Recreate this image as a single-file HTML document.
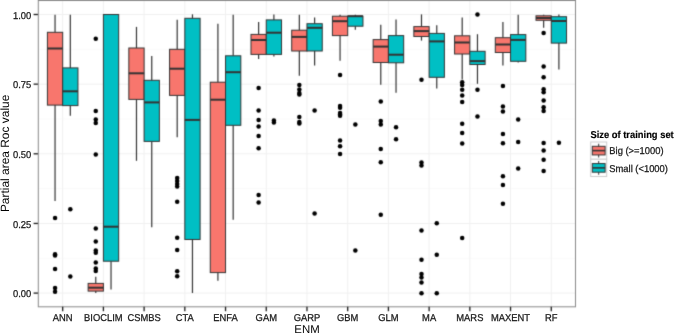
<!DOCTYPE html>
<html><head><meta charset="utf-8"><style>
html,body{margin:0;padding:0;background:#fff;}
body{width:675px;height:334px;overflow:hidden;}
svg{display:block;will-change:transform;}
text{font-family:"Liberation Sans",sans-serif;text-rendering:geometricPrecision;}
.at{font-size:9.4px;fill:#1A1A1A;stroke:#1A1A1A;stroke-width:0.25px;}
.tt{font-size:11.4px;fill:#000000;}
.yt{font-size:11.95px;fill:#000000;}
.lt{font-size:9.4px;font-weight:bold;fill:#000000;stroke:#000;stroke-width:0.15px;}
</style></head><body>
<svg width="675" height="334" viewBox="0 0 675 334">
<defs><filter id="soft" x="0" y="0" width="675" height="334" filterUnits="userSpaceOnUse" color-interpolation-filters="sRGB"><feConvolveMatrix order="3" kernelMatrix="1 5.0 1 5.0 25.0 5.0 1 5.0 1" divisor="49.0" edgeMode="duplicate"/></filter></defs>
<g filter="url(#soft)">
<rect x="0" y="0" width="675" height="334" fill="#ffffff"/>
<rect x="38.25" y="0.5" width="537.45" height="305.8" fill="#ffffff"/>
<line x1="38.25" x2="575.7" y1="258.28" y2="258.28" stroke="#FAFAFA" stroke-width="1"/>
<line x1="38.25" x2="575.7" y1="188.62" y2="188.62" stroke="#FAFAFA" stroke-width="1"/>
<line x1="38.25" x2="575.7" y1="118.98" y2="118.98" stroke="#FAFAFA" stroke-width="1"/>
<line x1="38.25" x2="575.7" y1="49.32" y2="49.32" stroke="#FAFAFA" stroke-width="1"/>
<line x1="38.25" x2="575.7" y1="293.10" y2="293.10" stroke="#F0F0F0" stroke-width="1"/>
<line x1="38.25" x2="575.7" y1="223.45" y2="223.45" stroke="#F0F0F0" stroke-width="1"/>
<line x1="38.25" x2="575.7" y1="153.80" y2="153.80" stroke="#F0F0F0" stroke-width="1"/>
<line x1="38.25" x2="575.7" y1="84.15" y2="84.15" stroke="#F0F0F0" stroke-width="1"/>
<line x1="38.25" x2="575.7" y1="14.50" y2="14.50" stroke="#F0F0F0" stroke-width="1"/>
<line x1="62.68" x2="62.68" y1="0.5" y2="306.3" stroke="#F0F0F0" stroke-width="1"/>
<line x1="103.40" x2="103.40" y1="0.5" y2="306.3" stroke="#F0F0F0" stroke-width="1"/>
<line x1="144.11" x2="144.11" y1="0.5" y2="306.3" stroke="#F0F0F0" stroke-width="1"/>
<line x1="184.83" x2="184.83" y1="0.5" y2="306.3" stroke="#F0F0F0" stroke-width="1"/>
<line x1="225.54" x2="225.54" y1="0.5" y2="306.3" stroke="#F0F0F0" stroke-width="1"/>
<line x1="266.26" x2="266.26" y1="0.5" y2="306.3" stroke="#F0F0F0" stroke-width="1"/>
<line x1="306.98" x2="306.98" y1="0.5" y2="306.3" stroke="#F0F0F0" stroke-width="1"/>
<line x1="347.69" x2="347.69" y1="0.5" y2="306.3" stroke="#F0F0F0" stroke-width="1"/>
<line x1="388.41" x2="388.41" y1="0.5" y2="306.3" stroke="#F0F0F0" stroke-width="1"/>
<line x1="429.12" x2="429.12" y1="0.5" y2="306.3" stroke="#F0F0F0" stroke-width="1"/>
<line x1="469.84" x2="469.84" y1="0.5" y2="306.3" stroke="#F0F0F0" stroke-width="1"/>
<line x1="510.55" x2="510.55" y1="0.5" y2="306.3" stroke="#F0F0F0" stroke-width="1"/>
<line x1="551.27" x2="551.27" y1="0.5" y2="306.3" stroke="#F0F0F0" stroke-width="1"/>
<line x1="55.05" x2="55.05" y1="14.8" y2="32.3" stroke="#333333" stroke-width="1.2"/>
<line x1="55.05" x2="55.05" y1="105.1" y2="201.0" stroke="#333333" stroke-width="1.2"/>
<rect x="47.41" y="32.3" width="15.27" height="72.80" fill="#F8766D" stroke="#333333" stroke-width="1.0"/>
<line x1="47.41" x2="62.68" y1="48.5" y2="48.5" stroke="#333333" stroke-width="2.0"/>
<circle cx="55.05" cy="217.9" r="2.25" fill="#000"/>
<circle cx="55.05" cy="254.3" r="2.25" fill="#000"/>
<circle cx="55.05" cy="255.6" r="2.25" fill="#000"/>
<circle cx="55.05" cy="268.9" r="2.25" fill="#000"/>
<circle cx="55.05" cy="288.0" r="2.25" fill="#000"/>
<circle cx="55.05" cy="291.8" r="2.25" fill="#000"/>
<line x1="70.31" x2="70.31" y1="14.8" y2="67.9" stroke="#333333" stroke-width="1.2"/>
<line x1="70.31" x2="70.31" y1="105.6" y2="115.8" stroke="#333333" stroke-width="1.2"/>
<rect x="62.68" y="67.9" width="15.27" height="37.70" fill="#00BFC4" stroke="#333333" stroke-width="1.0"/>
<line x1="62.68" x2="77.95" y1="91.3" y2="91.3" stroke="#333333" stroke-width="2.0"/>
<circle cx="70.31" cy="209.3" r="2.25" fill="#000"/>
<circle cx="70.31" cy="276.5" r="2.25" fill="#000"/>
<line x1="95.76" x2="95.76" y1="276.7" y2="283.4" stroke="#333333" stroke-width="1.2"/>
<line x1="95.76" x2="95.76" y1="291.1" y2="293.1" stroke="#333333" stroke-width="1.2"/>
<rect x="88.13" y="283.4" width="15.27" height="7.70" fill="#F8766D" stroke="#333333" stroke-width="1.0"/>
<line x1="88.13" x2="103.40" y1="287.7" y2="287.7" stroke="#333333" stroke-width="2.0"/>
<circle cx="95.76" cy="38.7" r="2.25" fill="#000"/>
<circle cx="95.76" cy="111.0" r="2.25" fill="#000"/>
<circle cx="95.76" cy="119.6" r="2.25" fill="#000"/>
<circle cx="95.76" cy="123.1" r="2.25" fill="#000"/>
<circle cx="95.76" cy="154.6" r="2.25" fill="#000"/>
<circle cx="95.76" cy="228.4" r="2.25" fill="#000"/>
<circle cx="95.76" cy="241.5" r="2.25" fill="#000"/>
<circle cx="95.76" cy="250.6" r="2.25" fill="#000"/>
<circle cx="95.76" cy="252.8" r="2.25" fill="#000"/>
<circle cx="95.76" cy="262.6" r="2.25" fill="#000"/>
<circle cx="95.76" cy="268.6" r="2.25" fill="#000"/>
<circle cx="95.76" cy="271.0" r="2.25" fill="#000"/>
<line x1="111.03" x2="111.03" y1="261.2" y2="289.4" stroke="#333333" stroke-width="1.2"/>
<rect x="103.40" y="14.5" width="15.27" height="246.70" fill="#00BFC4" stroke="#333333" stroke-width="1.0"/>
<line x1="103.40" x2="118.66" y1="226.7" y2="226.7" stroke="#333333" stroke-width="2.0"/>
<line x1="136.48" x2="136.48" y1="26.9" y2="48.0" stroke="#333333" stroke-width="1.2"/>
<line x1="136.48" x2="136.48" y1="99.4" y2="160.8" stroke="#333333" stroke-width="1.2"/>
<rect x="128.84" y="48.0" width="15.27" height="51.40" fill="#F8766D" stroke="#333333" stroke-width="1.0"/>
<line x1="128.84" x2="144.11" y1="73.3" y2="73.3" stroke="#333333" stroke-width="2.0"/>
<line x1="151.75" x2="151.75" y1="56.0" y2="80.3" stroke="#333333" stroke-width="1.2"/>
<line x1="151.75" x2="151.75" y1="141.4" y2="227.2" stroke="#333333" stroke-width="1.2"/>
<rect x="144.11" y="80.3" width="15.27" height="61.10" fill="#00BFC4" stroke="#333333" stroke-width="1.0"/>
<line x1="144.11" x2="159.38" y1="102.4" y2="102.4" stroke="#333333" stroke-width="2.0"/>
<line x1="177.19" x2="177.19" y1="19.7" y2="49.3" stroke="#333333" stroke-width="1.2"/>
<line x1="177.19" x2="177.19" y1="95.4" y2="137.2" stroke="#333333" stroke-width="1.2"/>
<rect x="169.56" y="49.3" width="15.27" height="46.10" fill="#F8766D" stroke="#333333" stroke-width="1.0"/>
<line x1="169.56" x2="184.83" y1="68.7" y2="68.7" stroke="#333333" stroke-width="2.0"/>
<circle cx="177.19" cy="178.0" r="2.25" fill="#000"/>
<circle cx="177.19" cy="181.0" r="2.25" fill="#000"/>
<circle cx="177.19" cy="184.0" r="2.25" fill="#000"/>
<circle cx="177.19" cy="186.5" r="2.25" fill="#000"/>
<circle cx="177.19" cy="201.8" r="2.25" fill="#000"/>
<circle cx="177.19" cy="237.7" r="2.25" fill="#000"/>
<circle cx="177.19" cy="250.1" r="2.25" fill="#000"/>
<circle cx="177.19" cy="271.3" r="2.25" fill="#000"/>
<circle cx="177.19" cy="276.2" r="2.25" fill="#000"/>
<line x1="192.46" x2="192.46" y1="14.3" y2="18.3" stroke="#333333" stroke-width="1.2"/>
<line x1="192.46" x2="192.46" y1="239.5" y2="293.0" stroke="#333333" stroke-width="1.2"/>
<rect x="184.83" y="18.3" width="15.27" height="221.20" fill="#00BFC4" stroke="#333333" stroke-width="1.0"/>
<line x1="184.83" x2="200.10" y1="119.9" y2="119.9" stroke="#333333" stroke-width="2.0"/>
<line x1="217.91" x2="217.91" y1="23.7" y2="82.2" stroke="#333333" stroke-width="1.2"/>
<line x1="217.91" x2="217.91" y1="272.6" y2="280.7" stroke="#333333" stroke-width="1.2"/>
<rect x="210.27" y="82.2" width="15.27" height="190.40" fill="#F8766D" stroke="#333333" stroke-width="1.0"/>
<line x1="210.27" x2="225.54" y1="99.7" y2="99.7" stroke="#333333" stroke-width="2.0"/>
<line x1="233.18" x2="233.18" y1="14.8" y2="55.8" stroke="#333333" stroke-width="1.2"/>
<line x1="233.18" x2="233.18" y1="125.3" y2="219.8" stroke="#333333" stroke-width="1.2"/>
<rect x="225.54" y="55.8" width="15.27" height="69.50" fill="#00BFC4" stroke="#333333" stroke-width="1.0"/>
<line x1="225.54" x2="240.81" y1="72.2" y2="72.2" stroke="#333333" stroke-width="2.0"/>
<line x1="258.62" x2="258.62" y1="21.9" y2="34.4" stroke="#333333" stroke-width="1.2"/>
<line x1="258.62" x2="258.62" y1="54.4" y2="59.0" stroke="#333333" stroke-width="1.2"/>
<rect x="250.99" y="34.4" width="15.27" height="20.00" fill="#F8766D" stroke="#333333" stroke-width="1.0"/>
<line x1="250.99" x2="266.26" y1="40.0" y2="40.0" stroke="#333333" stroke-width="2.0"/>
<circle cx="258.62" cy="88.1" r="2.25" fill="#000"/>
<circle cx="258.62" cy="110.4" r="2.25" fill="#000"/>
<circle cx="258.62" cy="119.9" r="2.25" fill="#000"/>
<circle cx="258.62" cy="126.6" r="2.25" fill="#000"/>
<circle cx="258.62" cy="136.0" r="2.25" fill="#000"/>
<circle cx="258.62" cy="148.2" r="2.25" fill="#000"/>
<circle cx="258.62" cy="195.0" r="2.25" fill="#000"/>
<circle cx="258.62" cy="202.6" r="2.25" fill="#000"/>
<line x1="273.89" x2="273.89" y1="14.6" y2="19.9" stroke="#333333" stroke-width="1.2"/>
<line x1="273.89" x2="273.89" y1="54.4" y2="56.4" stroke="#333333" stroke-width="1.2"/>
<rect x="266.26" y="19.9" width="15.27" height="34.50" fill="#00BFC4" stroke="#333333" stroke-width="1.0"/>
<line x1="266.26" x2="281.53" y1="32.7" y2="32.7" stroke="#333333" stroke-width="2.0"/>
<circle cx="273.89" cy="120.4" r="2.25" fill="#000"/>
<circle cx="273.89" cy="122.6" r="2.25" fill="#000"/>
<line x1="299.34" x2="299.34" y1="14.8" y2="30.2" stroke="#333333" stroke-width="1.2"/>
<line x1="299.34" x2="299.34" y1="51.0" y2="75.8" stroke="#333333" stroke-width="1.2"/>
<rect x="291.71" y="30.2" width="15.27" height="20.80" fill="#F8766D" stroke="#333333" stroke-width="1.0"/>
<line x1="291.71" x2="306.98" y1="36.9" y2="36.9" stroke="#333333" stroke-width="2.0"/>
<circle cx="299.34" cy="84.9" r="2.25" fill="#000"/>
<circle cx="299.34" cy="89.4" r="2.25" fill="#000"/>
<circle cx="299.34" cy="93.0" r="2.25" fill="#000"/>
<circle cx="299.34" cy="94.6" r="2.25" fill="#000"/>
<circle cx="299.34" cy="117.1" r="2.25" fill="#000"/>
<circle cx="299.34" cy="122.1" r="2.25" fill="#000"/>
<circle cx="299.34" cy="123.5" r="2.25" fill="#000"/>
<line x1="314.61" x2="314.61" y1="17.5" y2="23.7" stroke="#333333" stroke-width="1.2"/>
<line x1="314.61" x2="314.61" y1="51.0" y2="65.5" stroke="#333333" stroke-width="1.2"/>
<rect x="306.98" y="23.7" width="15.27" height="27.30" fill="#00BFC4" stroke="#333333" stroke-width="1.0"/>
<line x1="306.98" x2="322.24" y1="27.8" y2="27.8" stroke="#333333" stroke-width="2.0"/>
<circle cx="314.61" cy="110.4" r="2.25" fill="#000"/>
<circle cx="314.61" cy="213.6" r="2.25" fill="#000"/>
<line x1="340.06" x2="340.06" y1="14.8" y2="16.2" stroke="#333333" stroke-width="1.2"/>
<line x1="340.06" x2="340.06" y1="35.6" y2="60.8" stroke="#333333" stroke-width="1.2"/>
<rect x="332.42" y="16.2" width="15.27" height="19.40" fill="#F8766D" stroke="#333333" stroke-width="1.0"/>
<line x1="332.42" x2="347.69" y1="21.2" y2="21.2" stroke="#333333" stroke-width="2.0"/>
<circle cx="340.06" cy="74.9" r="2.25" fill="#000"/>
<circle cx="340.06" cy="105.9" r="2.25" fill="#000"/>
<circle cx="340.06" cy="107.7" r="2.25" fill="#000"/>
<circle cx="340.06" cy="113.1" r="2.25" fill="#000"/>
<circle cx="340.06" cy="114.5" r="2.25" fill="#000"/>
<circle cx="340.06" cy="115.8" r="2.25" fill="#000"/>
<circle cx="340.06" cy="140.6" r="2.25" fill="#000"/>
<circle cx="340.06" cy="146.3" r="2.25" fill="#000"/>
<circle cx="340.06" cy="154.1" r="2.25" fill="#000"/>
<line x1="355.33" x2="355.33" y1="14.8" y2="16.2" stroke="#333333" stroke-width="1.2"/>
<line x1="355.33" x2="355.33" y1="26.2" y2="29.8" stroke="#333333" stroke-width="1.2"/>
<rect x="347.69" y="16.2" width="15.27" height="10.00" fill="#00BFC4" stroke="#333333" stroke-width="1.0"/>
<line x1="347.69" x2="362.96" y1="16.2" y2="16.2" stroke="#333333" stroke-width="2.0"/>
<circle cx="355.33" cy="124.5" r="2.25" fill="#000"/>
<circle cx="355.33" cy="250.6" r="2.25" fill="#000"/>
<line x1="380.77" x2="380.77" y1="24.8" y2="39.6" stroke="#333333" stroke-width="1.2"/>
<line x1="380.77" x2="380.77" y1="62.5" y2="84.8" stroke="#333333" stroke-width="1.2"/>
<rect x="373.14" y="39.6" width="15.27" height="22.90" fill="#F8766D" stroke="#333333" stroke-width="1.0"/>
<line x1="373.14" x2="388.41" y1="46.6" y2="46.6" stroke="#333333" stroke-width="2.0"/>
<circle cx="380.77" cy="101.6" r="2.25" fill="#000"/>
<circle cx="380.77" cy="121.0" r="2.25" fill="#000"/>
<circle cx="380.77" cy="124.5" r="2.25" fill="#000"/>
<circle cx="380.77" cy="149.0" r="2.25" fill="#000"/>
<circle cx="380.77" cy="162.2" r="2.25" fill="#000"/>
<circle cx="380.77" cy="214.7" r="2.25" fill="#000"/>
<line x1="396.04" x2="396.04" y1="19.4" y2="35.6" stroke="#333333" stroke-width="1.2"/>
<line x1="396.04" x2="396.04" y1="62.8" y2="92.8" stroke="#333333" stroke-width="1.2"/>
<rect x="388.41" y="35.6" width="15.27" height="27.20" fill="#00BFC4" stroke="#333333" stroke-width="1.0"/>
<line x1="388.41" x2="403.68" y1="54.7" y2="54.7" stroke="#333333" stroke-width="2.0"/>
<circle cx="396.04" cy="127.2" r="2.25" fill="#000"/>
<circle cx="396.04" cy="139.3" r="2.25" fill="#000"/>
<line x1="421.49" x2="421.49" y1="14.4" y2="26.6" stroke="#333333" stroke-width="1.2"/>
<line x1="421.49" x2="421.49" y1="36.5" y2="40.6" stroke="#333333" stroke-width="1.2"/>
<rect x="413.85" y="26.6" width="15.27" height="9.90" fill="#F8766D" stroke="#333333" stroke-width="1.0"/>
<line x1="413.85" x2="429.12" y1="31.1" y2="31.1" stroke="#333333" stroke-width="2.0"/>
<circle cx="421.49" cy="79.8" r="2.25" fill="#000"/>
<circle cx="421.49" cy="162.5" r="2.25" fill="#000"/>
<circle cx="421.49" cy="165.5" r="2.25" fill="#000"/>
<circle cx="421.49" cy="230.5" r="2.25" fill="#000"/>
<circle cx="421.49" cy="259.7" r="2.25" fill="#000"/>
<circle cx="421.49" cy="273.9" r="2.25" fill="#000"/>
<circle cx="421.49" cy="277.4" r="2.25" fill="#000"/>
<circle cx="421.49" cy="282.5" r="2.25" fill="#000"/>
<circle cx="421.49" cy="293.3" r="2.25" fill="#000"/>
<line x1="436.76" x2="436.76" y1="25.2" y2="33.4" stroke="#333333" stroke-width="1.2"/>
<line x1="436.76" x2="436.76" y1="77.3" y2="88.6" stroke="#333333" stroke-width="1.2"/>
<rect x="429.12" y="33.4" width="15.27" height="43.90" fill="#00BFC4" stroke="#333333" stroke-width="1.0"/>
<line x1="429.12" x2="444.39" y1="41.4" y2="41.4" stroke="#333333" stroke-width="2.0"/>
<circle cx="436.76" cy="223.3" r="2.25" fill="#000"/>
<circle cx="436.76" cy="254.8" r="2.25" fill="#000"/>
<circle cx="436.76" cy="293.3" r="2.25" fill="#000"/>
<line x1="462.20" x2="462.20" y1="17.5" y2="35.8" stroke="#333333" stroke-width="1.2"/>
<line x1="462.20" x2="462.20" y1="54.0" y2="79.6" stroke="#333333" stroke-width="1.2"/>
<rect x="454.57" y="35.8" width="15.27" height="18.20" fill="#F8766D" stroke="#333333" stroke-width="1.0"/>
<line x1="454.57" x2="469.84" y1="42.5" y2="42.5" stroke="#333333" stroke-width="2.0"/>
<circle cx="462.20" cy="82.3" r="2.25" fill="#000"/>
<circle cx="462.20" cy="85.0" r="2.25" fill="#000"/>
<circle cx="462.20" cy="89.8" r="2.25" fill="#000"/>
<circle cx="462.20" cy="95.5" r="2.25" fill="#000"/>
<circle cx="462.20" cy="102.1" r="2.25" fill="#000"/>
<circle cx="462.20" cy="123.7" r="2.25" fill="#000"/>
<circle cx="462.20" cy="133.1" r="2.25" fill="#000"/>
<circle cx="462.20" cy="143.6" r="2.25" fill="#000"/>
<circle cx="462.20" cy="238.0" r="2.25" fill="#000"/>
<line x1="477.47" x2="477.47" y1="34.2" y2="51.3" stroke="#333333" stroke-width="1.2"/>
<line x1="477.47" x2="477.47" y1="64.5" y2="83.8" stroke="#333333" stroke-width="1.2"/>
<rect x="469.84" y="51.3" width="15.27" height="13.20" fill="#00BFC4" stroke="#333333" stroke-width="1.0"/>
<line x1="469.84" x2="485.11" y1="61.1" y2="61.1" stroke="#333333" stroke-width="2.0"/>
<circle cx="477.47" cy="14.5" r="2.25" fill="#000"/>
<circle cx="477.47" cy="89.8" r="2.25" fill="#000"/>
<circle cx="477.47" cy="116.4" r="2.25" fill="#000"/>
<line x1="502.92" x2="502.92" y1="22.1" y2="37.7" stroke="#333333" stroke-width="1.2"/>
<line x1="502.92" x2="502.92" y1="52.5" y2="65.5" stroke="#333333" stroke-width="1.2"/>
<rect x="495.29" y="37.7" width="15.27" height="14.80" fill="#F8766D" stroke="#333333" stroke-width="1.0"/>
<line x1="495.29" x2="510.55" y1="44.5" y2="44.5" stroke="#333333" stroke-width="2.0"/>
<circle cx="502.92" cy="86.0" r="2.25" fill="#000"/>
<circle cx="502.92" cy="106.4" r="2.25" fill="#000"/>
<circle cx="502.92" cy="111.5" r="2.25" fill="#000"/>
<circle cx="502.92" cy="133.9" r="2.25" fill="#000"/>
<circle cx="502.92" cy="143.3" r="2.25" fill="#000"/>
<circle cx="502.92" cy="176.2" r="2.25" fill="#000"/>
<circle cx="502.92" cy="185.1" r="2.25" fill="#000"/>
<circle cx="502.92" cy="203.7" r="2.25" fill="#000"/>
<line x1="518.19" x2="518.19" y1="14.8" y2="34.6" stroke="#333333" stroke-width="1.2"/>
<line x1="518.19" x2="518.19" y1="61.3" y2="62.5" stroke="#333333" stroke-width="1.2"/>
<rect x="510.55" y="34.6" width="15.27" height="26.70" fill="#00BFC4" stroke="#333333" stroke-width="1.0"/>
<line x1="510.55" x2="525.82" y1="39.9" y2="39.9" stroke="#333333" stroke-width="2.0"/>
<circle cx="518.19" cy="119.6" r="2.25" fill="#000"/>
<circle cx="518.19" cy="142.0" r="2.25" fill="#000"/>
<circle cx="518.19" cy="168.4" r="2.25" fill="#000"/>
<line x1="543.64" x2="543.64" y1="14.8" y2="15.8" stroke="#333333" stroke-width="1.2"/>
<line x1="543.64" x2="543.64" y1="20.3" y2="27.8" stroke="#333333" stroke-width="1.2"/>
<rect x="536.00" y="15.8" width="15.27" height="4.50" fill="#F8766D" stroke="#333333" stroke-width="1.0"/>
<line x1="536.00" x2="551.27" y1="18.0" y2="18.0" stroke="#333333" stroke-width="2.0"/>
<circle cx="543.64" cy="32.9" r="2.25" fill="#000"/>
<circle cx="543.64" cy="66.5" r="2.25" fill="#000"/>
<circle cx="543.64" cy="77.3" r="2.25" fill="#000"/>
<circle cx="543.64" cy="89.2" r="2.25" fill="#000"/>
<circle cx="543.64" cy="92.2" r="2.25" fill="#000"/>
<circle cx="543.64" cy="100.4" r="2.25" fill="#000"/>
<circle cx="543.64" cy="107.3" r="2.25" fill="#000"/>
<circle cx="543.64" cy="111.1" r="2.25" fill="#000"/>
<circle cx="543.64" cy="143.1" r="2.25" fill="#000"/>
<circle cx="543.64" cy="150.5" r="2.25" fill="#000"/>
<circle cx="543.64" cy="159.8" r="2.25" fill="#000"/>
<circle cx="543.64" cy="170.9" r="2.25" fill="#000"/>
<line x1="558.90" x2="558.90" y1="14.4" y2="16.7" stroke="#333333" stroke-width="1.2"/>
<line x1="558.90" x2="558.90" y1="43.1" y2="69.4" stroke="#333333" stroke-width="1.2"/>
<rect x="551.27" y="16.7" width="15.27" height="26.40" fill="#00BFC4" stroke="#333333" stroke-width="1.0"/>
<line x1="551.27" x2="566.54" y1="21.0" y2="21.0" stroke="#333333" stroke-width="2.0"/>
<circle cx="558.90" cy="142.8" r="2.25" fill="#000"/>
<rect x="38.3" y="0.5" width="537.2" height="306.3" fill="none" stroke="#888888" stroke-width="1"/>
<line x1="33.6" x2="37.9" y1="293.10" y2="293.10" stroke="#1A1A1A" stroke-width="1.3"/>
<line x1="33.6" x2="37.9" y1="223.45" y2="223.45" stroke="#1A1A1A" stroke-width="1.3"/>
<line x1="33.6" x2="37.9" y1="153.80" y2="153.80" stroke="#1A1A1A" stroke-width="1.3"/>
<line x1="33.6" x2="37.9" y1="84.15" y2="84.15" stroke="#1A1A1A" stroke-width="1.3"/>
<line x1="33.6" x2="37.9" y1="14.50" y2="14.50" stroke="#1A1A1A" stroke-width="1.3"/>
<line x1="62.68" x2="62.68" y1="306.8" y2="311.2" stroke="#1A1A1A" stroke-width="1.3"/>
<line x1="103.40" x2="103.40" y1="306.8" y2="311.2" stroke="#1A1A1A" stroke-width="1.3"/>
<line x1="144.11" x2="144.11" y1="306.8" y2="311.2" stroke="#1A1A1A" stroke-width="1.3"/>
<line x1="184.83" x2="184.83" y1="306.8" y2="311.2" stroke="#1A1A1A" stroke-width="1.3"/>
<line x1="225.54" x2="225.54" y1="306.8" y2="311.2" stroke="#1A1A1A" stroke-width="1.3"/>
<line x1="266.26" x2="266.26" y1="306.8" y2="311.2" stroke="#1A1A1A" stroke-width="1.3"/>
<line x1="306.98" x2="306.98" y1="306.8" y2="311.2" stroke="#1A1A1A" stroke-width="1.3"/>
<line x1="347.69" x2="347.69" y1="306.8" y2="311.2" stroke="#1A1A1A" stroke-width="1.3"/>
<line x1="388.41" x2="388.41" y1="306.8" y2="311.2" stroke="#1A1A1A" stroke-width="1.3"/>
<line x1="429.12" x2="429.12" y1="306.8" y2="311.2" stroke="#1A1A1A" stroke-width="1.3"/>
<line x1="469.84" x2="469.84" y1="306.8" y2="311.2" stroke="#1A1A1A" stroke-width="1.3"/>
<line x1="510.55" x2="510.55" y1="306.8" y2="311.2" stroke="#1A1A1A" stroke-width="1.3"/>
<line x1="551.27" x2="551.27" y1="306.8" y2="311.2" stroke="#1A1A1A" stroke-width="1.3"/>
<rect x="590.7" y="142.00" width="16.0" height="17.25" fill="#ffffff" stroke="#CCCCCC" stroke-width="1"/>
<line x1="598.7" x2="598.7" y1="143.72" y2="157.53" stroke="#333333" stroke-width="1"/>
<rect x="592.3" y="146.31" width="12.8" height="8.62" fill="#F8766D" stroke="#333333" stroke-width="1"/>
<line x1="592.3" x2="605.1" y1="150.62" y2="150.62" stroke="#333333" stroke-width="1.6"/>
<rect x="590.7" y="159.25" width="16.0" height="17.25" fill="#ffffff" stroke="#CCCCCC" stroke-width="1"/>
<line x1="598.7" x2="598.7" y1="160.97" y2="174.78" stroke="#333333" stroke-width="1"/>
<rect x="592.3" y="163.56" width="12.8" height="8.62" fill="#00BFC4" stroke="#333333" stroke-width="1"/>
<line x1="592.3" x2="605.1" y1="167.88" y2="167.88" stroke="#333333" stroke-width="1.6"/>
</g>
<text transform="translate(31.2,297.40) scale(1,1.06)" text-anchor="end" class="at">0.00</text>
<text transform="translate(31.2,227.75) scale(1,1.06)" text-anchor="end" class="at">0.25</text>
<text transform="translate(31.2,158.10) scale(1,1.06)" text-anchor="end" class="at">0.50</text>
<text transform="translate(31.2,88.45) scale(1,1.06)" text-anchor="end" class="at">0.75</text>
<text transform="translate(31.2,18.80) scale(1,1.06)" text-anchor="end" class="at">1.00</text>
<text transform="translate(62.68,320.7) scale(1,1.06)" text-anchor="middle" class="at">ANN</text>
<text transform="translate(103.40,320.7) scale(1,1.06)" text-anchor="middle" class="at">BIOCLIM</text>
<text transform="translate(144.11,320.7) scale(1,1.06)" text-anchor="middle" class="at">CSMBS</text>
<text transform="translate(184.83,320.7) scale(1,1.06)" text-anchor="middle" class="at">CTA</text>
<text transform="translate(225.54,320.7) scale(1,1.06)" text-anchor="middle" class="at">ENFA</text>
<text transform="translate(266.26,320.7) scale(1,1.06)" text-anchor="middle" class="at">GAM</text>
<text transform="translate(306.98,320.7) scale(1,1.06)" text-anchor="middle" class="at">GARP</text>
<text transform="translate(347.69,320.7) scale(1,1.06)" text-anchor="middle" class="at">GBM</text>
<text transform="translate(388.41,320.7) scale(1,1.06)" text-anchor="middle" class="at">GLM</text>
<text transform="translate(429.12,320.7) scale(1,1.06)" text-anchor="middle" class="at">MA</text>
<text transform="translate(469.84,320.7) scale(1,1.06)" text-anchor="middle" class="at">MARS</text>
<text transform="translate(510.55,320.7) scale(1,1.06)" text-anchor="middle" class="at">MAXENT</text>
<text transform="translate(551.27,320.7) scale(1,1.06)" text-anchor="middle" class="at">RF</text>
<text x="307" y="332.6" text-anchor="middle" class="tt">ENM</text>
<text transform="translate(8.7,153.4) rotate(-90)" text-anchor="middle" class="yt">Partial area Roc value</text>
<text transform="translate(590.4,138.0) scale(1,1.06)" class="lt">Size of training set</text>
<text transform="translate(609.3,154.30) scale(1,1.06)" class="at">Big (&gt;=1000)</text>
<text transform="translate(609.3,171.55) scale(1,1.06)" class="at">Small (&lt;1000)</text>
</svg>
</body></html>
